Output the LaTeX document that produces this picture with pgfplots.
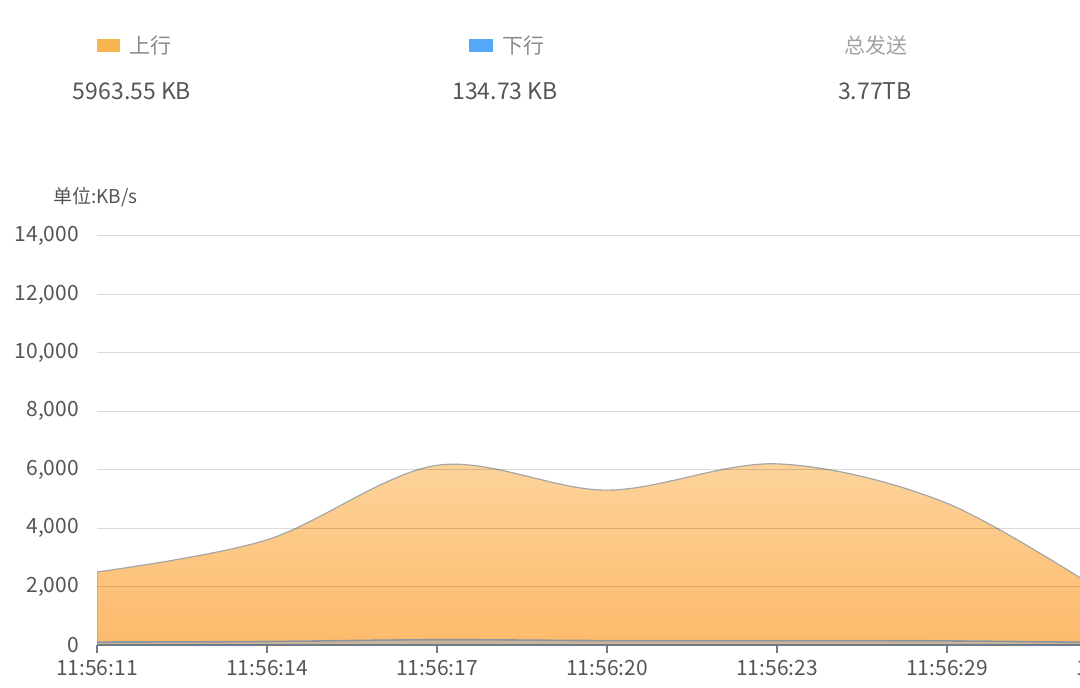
\documentclass[border=0pt]{standalone}
\usepackage{fontspec}
\setmainfont{Noto Sans CJK SC}
\usepackage{pgfplots}
\pgfplotsset{compat=1.18}
\definecolor{upc}{HTML}{F7B550}
\definecolor{downc}{HTML}{55A8F7}
\definecolor{txt}{HTML}{555555}
\definecolor{lbl}{HTML}{8A8A8A}
\definecolor{filltop}{HTML}{FDD49C}
\definecolor{fillbot}{HTML}{FDBA6B}
\definecolor{axisc}{HTML}{6F7B88}
\begin{document}
\begin{tikzpicture}
% header (1px = 0.5pt, origin at top-left)
\fill[upc] (48.5pt,-19.5pt) rectangle (60pt,-26pt);
\node[anchor=west, text=lbl, font=\fontsize{10.5}{12}\selectfont] at (61pt,-23pt) {上行};
\fill[downc] (234.5pt,-19.5pt) rectangle (246.5pt,-26pt);
\node[anchor=west, text=lbl, font=\fontsize{10.5}{12}\selectfont] at (247.5pt,-23pt) {下行};
\node[text=lbl!80, font=\fontsize{10.5}{12}\selectfont] at (438pt,-23pt) {总发送};
\node[text=txt, font=\fontsize{11.5}{13}\selectfont] at (66pt,-45.5pt) {5963.55 KB};
\node[text=txt, font=\fontsize{11.5}{13}\selectfont] at (252.5pt,-45.5pt) {134.73 KB};
\node[text=txt, font=\fontsize{11.5}{13}\selectfont] at (437.5pt,-45.5pt) {3.77TB};
\node[anchor=west, text=txt, font=\fontsize{9.5}{11}\selectfont] at (23pt,-98.5pt) {单位:KB/s};
\begin{axis}[
    at={(48.5pt,-322.5pt)}, anchor=south west,
    scale only axis, width=510pt, height=204.5pt,
    xmin=0, xmax=6, ymin=0, ymax=14000,
    xtick={0,1,2,3,4,5,6},
    xticklabels={11:56:11,11:56:14,11:56:17,11:56:20,11:56:23,11:56:29,11:56:32},
    ytick={0,2000,4000,6000,8000,10000,12000,14000},
    scaled y ticks=false,
    axis x line=bottom, axis y line=left,
    axis line style={-},
    y axis line style={draw=none},
    x axis line style={draw=axisc, line width=0.9pt},
    ytick style={draw=none},
    xtick style={draw=axisc, line width=0.6pt},
    tick align=outside, major tick length=4pt,
    ymajorgrids, grid style={black, opacity=0.14, line width=0.5pt},
    axis on top,
    ticklabel style={text=txt, font=\fontsize{10.5}{12}\selectfont},
    yticklabel style={xshift=-1.5pt},
    /pgf/number format/assume math mode=true,
    /pgf/number format/.cd, fixed, 1000 sep={,},
]
\addplot[smooth, tension=0.55, draw=gray!70, line width=0.6pt,
    top color=filltop, bottom color=fillbot] coordinates {
    (0,2500) (1,3600) (2,6150) (3,5300) (4,6200) (5,4850) (6,1500)
} \closedcycle;
\addplot[smooth, tension=0.55, draw=axisc!80, line width=0.8pt,
    fill=axisc!60, fill opacity=0.6] coordinates {
    (0,100) (1,120) (2,180) (3,150) (4,150) (5,140) (6,80)
} \closedcycle;
\end{axis}
\pgfresetboundingbox
\useasboundingbox (0pt,0pt) rectangle (540pt,-344pt);
\end{tikzpicture}
\end{document}
